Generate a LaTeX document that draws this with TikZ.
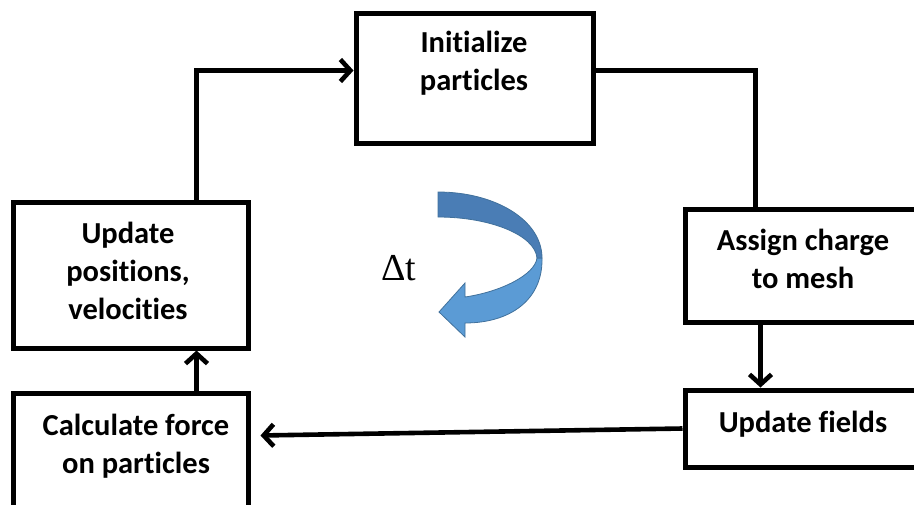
\documentclass[tikz,border=0pt]{standalone}
\usepackage{fontspec}
\setmainfont{Carlito}[Ligatures=NoCommon]
\newfontfamily\tms{Liberation Serif}
\usetikzlibrary{arrows.meta}
\definecolor{bluedark}{HTML}{4A7DB5}
\definecolor{bluelight}{HTML}{5B9BD5}
\definecolor{blueedge}{HTML}{41719C}
\tikzset{
  box/.style={draw=black, line width=5pt, inner sep=0pt, rectangle},
  lbl/.style={align=center, font=\fontsize{30.5}{38}\selectfont\bfseries, inner sep=0pt},
  conn/.style={draw=black, line width=4.6pt},
  arr/.style={conn, -{Straight Barb[length=10pt,width=22pt,line width=4.6pt]}},
}
\begin{document}
\begin{tikzpicture}[x=1pt,y=-1pt]
\useasboundingbox (0,0) rectangle (914,504);
\clip (0,0) rectangle (914,504);
% boxes
\node[box, minimum width=237pt, minimum height=130pt] (ip) at (474.5,78) {};
\node[box, minimum width=235pt, minimum height=146pt] (up) at (130.5,275) {};
\node[box, minimum width=236pt, minimum height=113pt] (ac) at (803,265.5) {};
\node[box, minimum width=236pt, minimum height=77pt] (uf) at (803,428.5) {};
\node[box, minimum width=235pt, minimum height=120pt] (cf) at (130.5,453) {};
% labels
\node[lbl] (tip) at (474,63) {Initialize\\particles};
\node[lbl] (tup) at (128,271) {Update\\positions,\\velocities};
\node[lbl] (tac) at (803,259) {Assign charge\\to mesh};
\node[lbl] (tuf) at (803,424) {Update fields};
\node[lbl] (tcf) at (136,446) {Calculate force\\on particles};
% connectors
\draw[arr] ([shift={(186,0)}]up.north west) |- ([shift={(0,60)}]ip.north west);
\draw[conn] ([shift={(0,60)}]ip.north east) -| ([shift={(73,0)}]ac.north west);
\draw[arr] ([shift={(78,0)}]ac.south west) -- ([shift={(78,0)}]uf.north west);
\draw[arr] (uf.west) -- ([shift={(10,45)}]cf.north east);
\draw[arr] ([shift={(186,0)}]cf.north west) -- ([shift={(186,0)}]up.south west);
% curved arrow
\filldraw[fill=bluelight, draw=blueedge, line width=0.8pt]
  (542,258) .. controls (543,300) and (510,323) .. (465,323)
  -- (465,337) -- (439,312) -- (465,283) -- (465,297)
  .. controls (500,292) and (535,275) .. (537,258) -- cycle;
\filldraw[fill=bluedark, draw=blueedge, line width=0.8pt]
  (438,192) .. controls (495,192) and (542,220) .. (542,258)
  -- (537,258) .. controls (535,235) and (490,217) .. (438,217) -- cycle;
\node[font=\tms\fontsize{38}{44}\selectfont, anchor=base, inner sep=0pt] (dt) at (399,280) {Δt};
\end{tikzpicture}
\end{document}
